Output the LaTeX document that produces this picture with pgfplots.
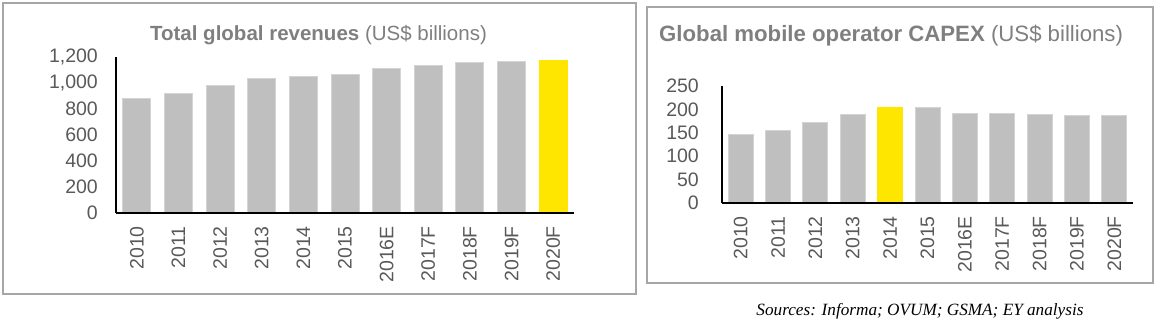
\documentclass[border=0pt]{standalone}
\usepackage{pgfplots}
\pgfplotsset{compat=1.18}
\usepackage{fontspec}
\setmainfont{Liberation Sans}
\newfontfamily\serifit{Liberation Serif}
\definecolor{barGray}{HTML}{BFBFBF}
\definecolor{barEdge}{HTML}{D4D4D4}
\definecolor{eyYellow}{HTML}{FFE600}
\definecolor{tickGray}{HTML}{595959}
\definecolor{titleGray}{HTML}{7F7F7F}
\definecolor{frameGray}{HTML}{A6A6A6}
\pgfplotsset{
  eybars/.style={
    scale only axis,
    anchor=south west,
    axis on top,
    axis x line=bottom,
    axis y line=left,
    axis line style={black, line width=1.2pt, -},
    major tick length=0pt,
    xtick style={draw=none}, ytick style={draw=none},
    ymin=0,
    xmin=-0.5, xmax=10.5,
    xtick={0,...,10},
    xticklabels={2010,2011,2012,2013,2014,2015,2016E,2017F,2018F,2019F,2020F},
    ticklabel style={font=\fontsize{19.5}{20}\selectfont, text=tickGray},
    xticklabel style={yshift=-13pt, rotate=90, anchor=east, inner sep=0pt},
    yticklabel style={inner sep=0pt},
    /pgf/number format/assume math mode=true,
    /pgf/number format/1000 sep={,},
    ybar, bar shift=0pt,
    clip=false,
  }
}
\begin{document}
\begin{tikzpicture}[x=1pt,y=1pt]
\useasboundingbox (0,0) rectangle (1160,324);
% frames
\draw[frameGray, line width=2pt] (3,30) rectangle (636,321);
\draw[frameGray, line width=2pt] (647,41) rectangle (1153,317);
% titles
\node[text=titleGray, font=\fontsize{20.5}{22}\selectfont, inner sep=0pt] at (318.5,289) {\textbf{Total global revenues} (US\$ billions)};
\node[text=titleGray, font=\fontsize{22.2}{24}\selectfont, inner sep=0pt, anchor=west] at (659,288) {\textbf{Global mobile operator CAPEX} (US\$ billions)};
% left chart
\begin{axis}[eybars,
  at={(116pt,111pt)}, width=458pt, height=156pt,
  ymax=1200, ytick={0,200,...,1200},
  bar width=28pt,
  yticklabel style={xshift=-18pt},
]
\addplot[fill=barGray, draw=barEdge, line width=1pt] coordinates {
(0,879) (1,918) (2,979) (3,1038) (4,1049) (5,1064) (6,1108) (7,1133) (8,1159) (9,1164)};
\addplot[fill=eyYellow, draw=eyYellow, line width=1pt] coordinates {(10,1172)};
\end{axis}
% right chart
\begin{axis}[eybars,
  at={(722pt,121pt)}, width=411pt, height=117pt,
  ymax=250, ytick={0,50,...,250},
  bar width=25pt,
  yticklabel style={xshift=-23pt},
]
\addplot[fill=barGray, draw=barEdge, line width=1pt] coordinates {
(0,147) (1,154) (2,173) (3,189) (5,203) (6,192) (7,191) (8,189) (9,186) (10,188)};
\addplot[fill=eyYellow, draw=eyYellow, line width=1pt] coordinates {(4,203)};
\end{axis}
% sources
\node[font=\serifit\itshape\fontsize{17.2}{19}\selectfont, inner sep=0pt] at (920,13) {Sources: Informa; OVUM; GSMA; EY analysis};
\end{tikzpicture}
\end{document}
